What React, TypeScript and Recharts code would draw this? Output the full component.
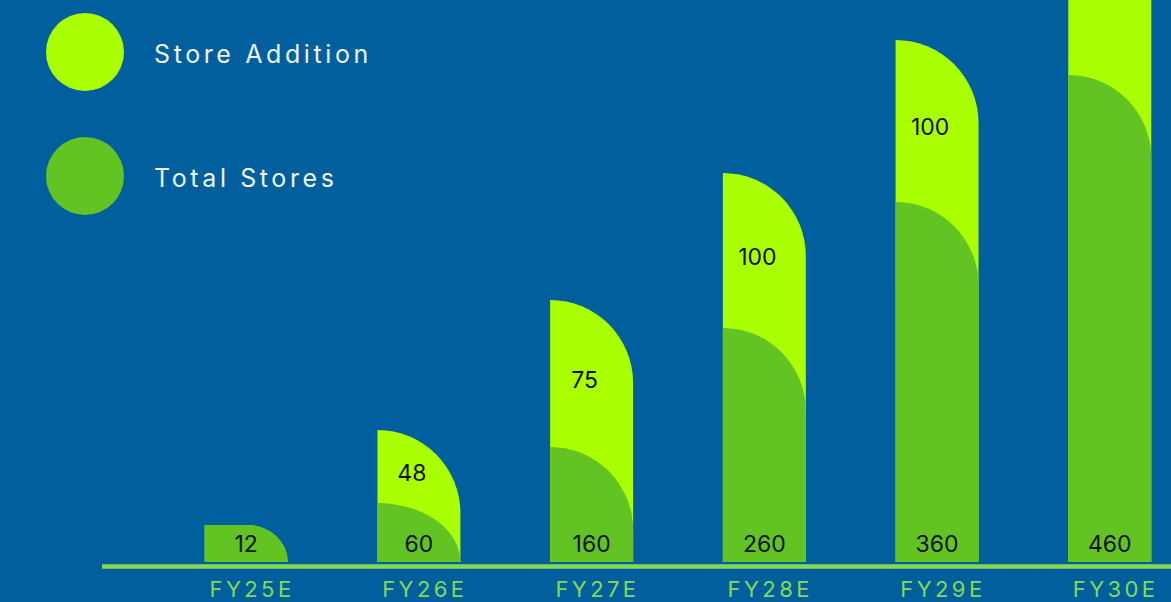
import React from 'react';
import { BarChart, Bar, XAxis, YAxis, Legend, LabelList } from 'recharts';

// bar heights as drawn (visual units), labels printed on the bars are separate
const categories = ['FY25E', 'FY26E', 'FY27E', 'FY28E', 'FY29E', 'FY30E'];
const totalStores = [37, 59, 115, 234, 360, 487];
const storeAddition = [0, 73, 147, 155, 162, 165];
const totalLabels = ['12', '60', '160', '260', '360', '460'];
const additionLabels = [null, '48', '75', '100', '100', null];

const BG = '#015F9E';
const LIME = '#AAFF00';
const GREEN = '#63C323';
const AXIS = '#84DB52';
const FONT = 'Inter, "Open Sans", sans-serif';

const chartData = categories.map((name, i) => ({
  name,
  total: totalStores[i],
  full: totalStores[i] + storeAddition[i],
  addition: storeAddition[i],
}));

// flat-topped bar with a big rounded top-right corner
const CornerBar = (props: any) => {
  const { x, y, width: w, height: h, fill } = props;
  if (!h || h <= 0) return null;
  const ry = Math.min(w, h);
  const rx = h >= w * 0.6 ? w : Math.min(w, h * 1.1);
  const d = `M${x},${y + h} L${x},${y} L${x + w - rx},${y} A${rx},${ry} 0 0 1 ${x + w},${y + ry} L${x + w},${y + h} Z`;
  return <path d={d} fill={fill} />;
};

const AdditionLabel = (props: any) => {
  const { x, y, width, height, index } = props;
  const text = additionLabels[index];
  if (!text) return null;
  const row = chartData[index];
  const segH = (row.addition / row.full) * height;
  return (
    <text
      x={x + width / 2 - 7}
      y={y + segH / 2 + 6}
      textAnchor="middle"
      dominantBaseline="central"
      fill="#111"
      fontSize={23}
      fontFamily={FONT}
    >
      {text}
    </text>
  );
};

const TotalLabel = (props: any) => {
  const { x, y, width, height, index } = props;
  return (
    <text
      x={x + width / 2}
      y={y + height - 18}
      textAnchor="middle"
      dominantBaseline="central"
      fill="#111"
      fontSize={23}
      fontFamily={FONT}
    >
      {totalLabels[index]}
    </text>
  );
};

const CategoryTick = (props: any) => {
  const { x, y, payload } = props;
  return (
    <text
      x={x + 6}
      y={y}
      dy={14}
      textAnchor="middle"
      dominantBaseline="central"
      fill={AXIS}
      fontSize={22}
      letterSpacing={3.4}
      fontFamily={FONT}
    >
      {payload.value}
    </text>
  );
};

const renderLegend = (props: any) => {
  const { payload } = props;
  return (
    <div style={{ position: 'relative', width: 420, height: 230 }}>
      {(payload || []).map((entry: any, i: number) => (
        <div
          key={entry.value}
          style={{
            position: 'absolute',
            left: 46,
            top: 13 + i * 124,
            display: 'flex',
            alignItems: 'center',
            height: 78,
          }}
        >
          <div style={{ width: 78, height: 78, borderRadius: '50%', background: entry.color }} />
          <span
            style={{
              marginLeft: 30,
              marginTop: 3,
              color: '#EEF3F8',
              fontSize: 25,
              letterSpacing: 3.6,
              fontFamily: FONT,
              whiteSpace: 'nowrap',
            }}
          >
            {entry.value}
          </span>
        </div>
      ))}
    </div>
  );
};

export default function App() {
  return (
    <div
      style={{
        position: 'fixed',
        top: 0,
        left: 0,
        width: 1171,
        height: 602,
        overflow: 'hidden',
        background: BG,
      }}
    >
      <style>{`html, body { margin: 0; background: ${BG}; }`}</style>
      <BarChart
        width={1196}
        height={602}
        data={chartData}
        margin={{ top: 0, right: 0, left: 102, bottom: 0 }}
        barGap={-83}
        barSize={83}
      >
        <XAxis
          dataKey="name"
          height={35.5}
          padding={{ left: 57.7, right: 0 }}
          axisLine={{ stroke: AXIS, strokeWidth: 4.5 }}
          tickLine={false}
          tick={<CategoryTick />}
          interval={0}
        />
        <YAxis hide domain={[-4.5, 562]} allowDataOverflow />
        <Legend
          layout="vertical"
          align="center"
          verticalAlign="middle"
          wrapperStyle={{ top: 0, left: 0, width: 420, height: 230 }}
          content={renderLegend}
        />
        <Bar
          dataKey="full"
          name="Store Addition"
          fill={LIME}
          shape={<CornerBar />}
          isAnimationActive={false}
        >
          <LabelList dataKey="full" content={<AdditionLabel />} />
        </Bar>
        <Bar
          dataKey="total"
          name="Total Stores"
          fill={GREEN}
          shape={<CornerBar />}
          isAnimationActive={false}
        >
          <LabelList dataKey="total" content={<TotalLabel />} />
        </Bar>
      </BarChart>
    </div>
  );
}
